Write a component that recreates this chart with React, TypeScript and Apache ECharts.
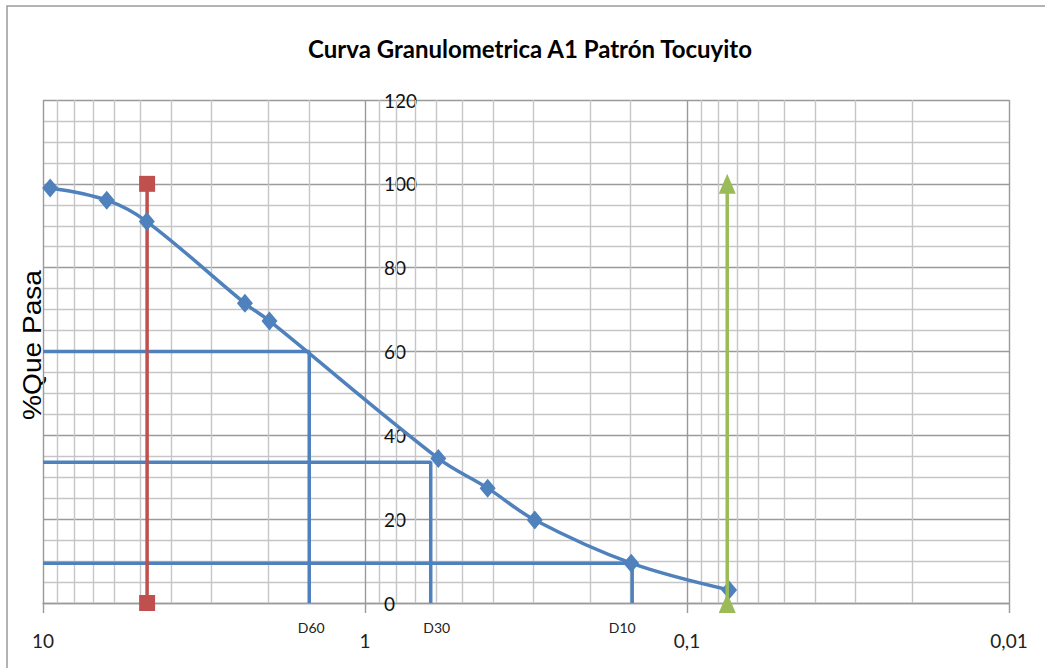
import React, { useEffect, useRef } from "react";
import * as echarts from "echarts";

// Sieve analysis: opening size (mm) and cumulative % passing
const sieveSizes = [9.5, 6.34, 4.76, 2.36, 1.98, 0.592, 0.416, 0.297, 0.149, 0.074];
const percentPassing = [99.0, 96.1, 91.0, 71.5, 67.3, 34.5, 27.4, 19.8, 9.5, 3.1];

// Characteristic diameters (mm) and the % passing level each guide is drawn at
const dNames = ["D60", "D30", "D10"];
const dSizes = [1.49, 0.625, 0.148];
const dLevels = [60, 33.6, 9.5];

// Limit markers: No. 4 sieve (gravel / sand) and No. 200 sieve (fines)
const gravelLimit = 4.75;
const finesLimit = 0.075;

// Minor logarithmic gridline positions (2..9 per decade)
const minorLogTicks = [9, 8, 7, 6, 5, 4, 3, 2, 0.9, 0.8, 0.7, 0.6, 0.5, 0.4, 0.3, 0.2, 0.09, 0.08, 0.07, 0.06, 0.05, 0.04, 0.03, 0.02];

const X_MIN = 0.01;
const X_MAX = 10;
const MAJOR = "#9a9a9a";
const MINOR = "#c6c6c6";
const BLUE = "#4f81bd";
const RED = "#c0504d";
const GREEN = "#9bbb59";
const FONT = "Lato, 'Liberation Sans', sans-serif";
const LINE_W = 3.5;

export default function App() {
  const ref = useRef<HTMLDivElement>(null);

  useEffect(() => {
    if (!ref.current) return;
    const chart = echarts.init(ref.current, null, { renderer: "svg" });

    const dLabelOffsets = [[2, 0], [6, 0], [-10, 0]];
    const dSeries = dNames.map((name, i) => ({
      type: "line",
      name,
      z: 3,
      clip: false,
      data: [
        { value: [X_MAX, dLevels[i]] },
        { value: [dSizes[i], dLevels[i]] },
        {
          value: [dSizes[i], 0],
          label: {
            show: true,
            position: "bottom",
            distance: 17,
            offset: dLabelOffsets[i],
            formatter: name,
            fontFamily: FONT,
            fontSize: 14,
            color: "#222",
          },
        },
      ],
      showSymbol: true,
      symbol: "circle",
      symbolSize: 0,
      lineStyle: { color: BLUE, width: LINE_W },
      itemStyle: { color: BLUE },
    }));

    const option: any = {
      animation: false,
      backgroundColor: "#ffffff",
      grid: { left: 43, right: 36, top: 100, bottom: 65 },
      xAxis: {
        type: "log",
        logBase: 10,
        min: X_MIN,
        max: X_MAX,
        inverse: true,
        axisLine: { show: true, lineStyle: { color: MAJOR, width: 1.4 } },
        axisTick: { show: true, length: 10, lineStyle: { color: MAJOR, width: 1.4 } },
        axisLabel: {
          margin: 28,
          fontFamily: FONT,
          fontSize: 19,
          color: "#222",
          formatter: (v: number) => String(v).replace(".", ","),
        },
        splitLine: { show: true, lineStyle: { color: MAJOR, width: 1.4 } },
      },
      yAxis: {
        type: "value",
        min: 0,
        max: 120,
        interval: 20,
        position: "left",
        offset: -322,
        axisLine: { show: false },
        axisTick: { show: false },
        axisLabel: {
          inside: true,
          margin: 19,
          fontFamily: FONT,
          fontSize: 19,
          color: "#111",
        },
        splitLine: { show: true, lineStyle: { color: MAJOR, width: 1.4 } },
        minorTick: { show: false, splitNumber: 4 },
        minorSplitLine: { show: true, lineStyle: { color: MINOR, width: 1.4 } },
      },
      graphic: [
        {
          type: "rect",
          shape: { x: 7, y: 6, width: 1100, height: 700 },
          style: { fill: "none", stroke: MAJOR, lineWidth: 1.5 },
          silent: true,
        },
        {
          type: "text",
          x: 530,
          y: 48,
          style: {
            text: "Curva Granulometrica A1 Patrón Tocuyito",
            font: `bold 24px ${FONT}`,
            fill: "#000",
            textAlign: "center",
            textVerticalAlign: "middle",
          },
        },
        {
          type: "text",
          x: 32,
          y: 345,
          rotation: Math.PI / 2,
          scaleX: 1.08,
          style: {
            text: "%Que Pasa",
            font: "26px 'Liberation Sans', Arial, sans-serif",
            fill: "#000",
            textAlign: "center",
            textVerticalAlign: "middle",
          },
        },
      ],
      series: [
        {
          // minor logarithmic gridlines plus guides at D60 and D10
          type: "line",
          z: 1,
          data: [],
          silent: true,
          markLine: {
            z: 1,
            silent: true,
            symbol: ["none", "none"],
            label: { show: false },
            lineStyle: { type: "solid", color: MINOR, width: 1.4 },
            data: [...minorLogTicks, dSizes[0], dSizes[2]].map((v) => ({ xAxis: v })),
          },
        },
        ...dSeries,
        {
          type: "line",
          name: "N°4",
          z: 4,
          clip: false,
          data: [
            [gravelLimit, 100],
            [gravelLimit, 0],
          ],
          symbol: "rect",
          symbolSize: 16,
          lineStyle: { color: RED, width: LINE_W },
          itemStyle: { color: RED },
        },
        {
          type: "line",
          name: "Curva",
          z: 5,
          smooth: 0.35,
          data: sieveSizes.map((s, i) => [s, percentPassing[i]]),
          symbol: "diamond",
          symbolSize: [16, 19],
          lineStyle: { color: BLUE, width: LINE_W },
          itemStyle: { color: BLUE },
        },
        {
          type: "line",
          name: "N°200",
          z: 6,
          clip: false,
          data: [
            [finesLimit, 0],
            [finesLimit, 100],
          ],
          symbol: "triangle",
          symbolSize: [17, 20],
          lineStyle: { color: GREEN, width: LINE_W },
          itemStyle: { color: GREEN },
        },
      ],
    };

    chart.setOption(option);
    return () => chart.dispose();
  }, []);

  return (
    <div
      ref={ref}
      style={{ position: "fixed", left: 0, top: 0, width: 1045, height: 668, background: "#fff" }}
    />
  );
}
